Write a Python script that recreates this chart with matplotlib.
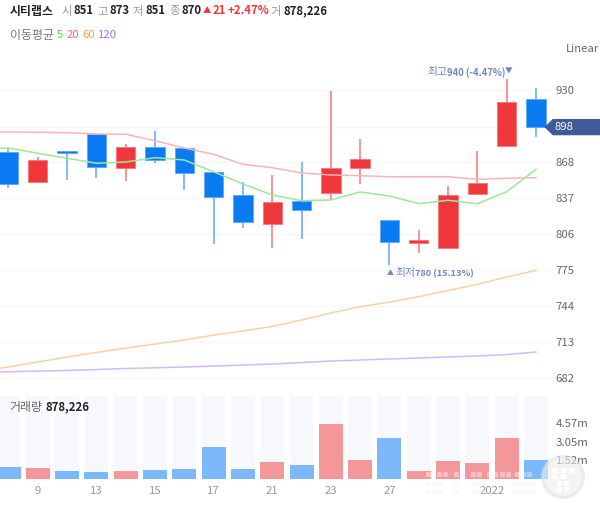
import matplotlib
matplotlib.use("Agg")
import matplotlib.pyplot as plt
from matplotlib.patches import Polygon, Circle, Rectangle

plt.rcParams['font.family'] = ['Noto Sans CJK KR', 'DejaVu Sans']

W, H = 600, 515

opens  = [876.4, 850.8, 877.7, 892.1, 862.8, 881.2, 880.3, 859.1, 839.8, 814.4, 834.4, 841.6, 863.1, 818.3, 798.5, 793.7, 840.7, 882.0, 922.0]
closes = [848.8, 870.0, 875.5, 863.7, 881.2, 870.0, 858.8, 837.6, 816.1, 833.3, 826.4, 862.6, 870.8, 799.4, 800.8, 839.8, 849.9, 919.9, 897.9]
highs  = [879.8, 872.6, 877.7, 892.1, 883.2, 895.0, 880.3, 859.1, 850.5, 856.8, 867.7, 929.1, 887.8, 818.3, 809.7, 847.6, 877.7, 939.7, 931.5]
lows   = [845.9, 850.8, 852.5, 854.5, 851.4, 867.4, 843.6, 797.4, 811.4, 794.2, 801.4, 835.3, 848.8, 779.6, 789.4, 793.7, 839.6, 882.0, 889.8]
volumes = [0.97, 0.88, 0.66, 0.58, 0.66, 0.74, 0.83, 2.64, 0.83, 1.35, 1.10, 4.55, 1.51, 3.33, 0.64, 1.49, 1.26, 3.33, 1.57]
volume_ceiling = 6.86

ma_x = list(range(-1, 19))
ma5   = [879.5, 880.0, 875.5, 871.2, 866.9, 868.0, 871.7, 869.7, 859.6, 849.1, 839.6, 834.7, 835.3, 842.2, 838.7, 832.1, 835.0, 832.1, 842.4, 861.7]
ma20  = [894.0, 893.8, 893.6, 893.2, 892.1, 891.9, 886.3, 880.0, 874.6, 866.0, 863.1, 858.5, 856.8, 856.2, 855.3, 855.3, 855.3, 853.1, 854.0, 854.5]
ma60  = [687.6, 691.5, 695.8, 700.1, 704.0, 707.8, 711.3, 714.7, 719.0, 722.5, 726.4, 732.0, 738.0, 743.4, 747.4, 752.0, 757.3, 762.7, 769.0, 774.7]
ma120 = [687.0, 687.4, 688.0, 688.5, 689.3, 690.2, 690.8, 691.5, 692.3, 693.2, 694.0, 695.3, 696.6, 697.5, 698.4, 699.2, 700.1, 701.0, 702.2, 704.4]

price_ticks = [682, 713, 744, 775, 806, 837, 868, 898, 930]
volume_ticks = [1.52, 3.05, 4.57]
volume_labels = ['1.52m', '3.05m', '4.57m']
date_ticks = [1, 3, 5, 7, 9, 11, 13, 16.5]
date_labels = ['9', '13', '15', '17', '21', '23', '27', '2022']
last_price = 898

RED, BLUE = '#f0383c', '#0a7bf2'
RED_WICK, BLUE_WICK = '#f4777a', '#5aa8f6'
RED_VOL, BLUE_VOL = '#f4979b', '#7db8fb'
GRID = '#f7f7f9'
TICK = '#666666'
NOTE = '#6f86c2'


def axes_rect(left, top, right, bottom):
    return [left / W, 1 - bottom / H, (right - left) / W, (bottom - top) / H]


fig = plt.figure(figsize=(W / 100, H / 100), dpi=100, facecolor='white')
ax = fig.add_axes(axes_rect(0, 60, 553, 385))
vax = fig.add_axes(axes_rect(0, 395.7, 553, 478.7))
xlim = (-0.29, 18.58)

# price panel
for i, (o, c, h, l) in enumerate(zip(opens, closes, highs, lows)):
    up = c >= o
    ax.vlines(i, l, h, color=RED_WICK if up else BLUE_WICK, lw=1.1, zorder=3)
    ax.bar(i, abs(c - o), bottom=min(o, c), width=0.66, color=RED if up else BLUE,
           edgecolor=RED_WICK if up else BLUE_WICK, linewidth=0.6, zorder=4)
ax.plot(ma_x, ma120, color='#d6b8fb', lw=1.1, zorder=2)
ax.plot(ma_x, ma60, color='#fcd0a6', lw=1.1, zorder=2)
ax.plot(ma_x, ma20, color='#fbb4b4', lw=1.1, zorder=5)
ax.plot(ma_x, ma5, color='#9be89b', lw=1.1, zorder=5)

ax.set_xlim(*xlim)
ax.set_ylim(676.0, 955.8)
ax.set_yticks(price_ticks)
ax.set_yticklabels(['' if v == last_price else str(v) for v in price_ticks])
ax.set_xticks([])
ax.yaxis.tick_right()
ax.tick_params(axis='y', length=0, pad=2, labelsize=8.2, labelcolor=TICK)
ax.grid(axis='y', color=GRID, lw=1)
ax.set_axisbelow(True)
for s in ax.spines.values():
    s.set_visible(False)
ax.patch.set_alpha(0)

# last price tag
tag = Polygon([(18.29, last_price), (18.57, last_price + 7), (20.3, last_price + 7),
               (20.3, last_price - 7), (18.57, last_price - 7)],
              closed=True, facecolor='#3f5a96', edgecolor='none', clip_on=False, zorder=6)
ax.add_patch(tag)
ax.text(18.62, last_price, str(last_price), color='white', fontsize=8.2, va='center', ha='left',
        zorder=7, clip_on=False)

# volume panel
vax.bar(range(len(volumes)), [volume_ceiling] * len(volumes), width=0.8, color='#f6f8fc', zorder=1)
for i, v in enumerate(volumes):
    up = closes[i] >= opens[i]
    vax.bar(i, v, width=0.82, color=RED_VOL if up else BLUE_VOL, zorder=2)
vax.set_xlim(*xlim)
vax.set_ylim(0, volume_ceiling)
vax.set_yticks(volume_ticks)
vax.set_yticklabels(volume_labels)
vax.yaxis.tick_right()
vax.set_xticks(date_ticks)
vax.set_xticklabels(date_labels)
vax.tick_params(axis='y', length=0, pad=2, labelsize=8.2, labelcolor=TICK)
vax.tick_params(axis='x', length=0, pad=5, labelsize=8.2, labelcolor='#999999')
for s in vax.spines.values():
    s.set_visible(False)
vax.patch.set_alpha(0)


def label(x, y, s, color='#222222', size=8.2, bold=False, ha='left'):
    fig.text(x / W, 1 - y / H, s, color=color, fontsize=size, va='center', ha=ha,
             fontweight='bold' if bold else 'normal')


GRAY = '#999999'
HRED = '#f0383c'
label(10, 11, '시티랩스', bold=True, size=8.6)
label(62, 11, '시', GRAY)
label(74, 11, '851', bold=True)
label(97, 11, '고', GRAY)
label(110, 11, '873', bold=True)
label(133, 11, '저', GRAY)
label(146, 11, '851', bold=True)
label(169, 11, '종', GRAY)
label(182, 11, '870', bold=True)
label(203, 11, '▲', HRED, size=6)
label(213, 11, '21', HRED, bold=True)
label(227, 11, '+2.47%', HRED, bold=True)
label(270, 11, '거', GRAY)
label(283, 11, '878,226', bold=True)
label(10, 35, '이동평균', '#777777', size=8.6)
label(57, 35, '5', '#4fd44f')
label(67, 35, '20', '#f8696b')
label(82, 35, '60', '#fa9f5a')
label(98, 35, '120', '#a56cf7')
label(566, 49, 'Linear', TICK)
label(427, 72, '최고', NOTE, size=7.8)
label(447, 73, '940 (-4.47%)', NOTE, bold=True, size=6.8)
label(505, 72, '▼', NOTE, size=5.5)
label(387, 273, '▲', NOTE, size=5)
label(395, 273, '최저', NOTE, size=7.8)
label(415, 274, '780 (15.13%)', NOTE, bold=True, size=6.6)
label(9, 407, '거래량', '#666666', size=8.6)
label(45, 407, '878,226', bold=True)

# watermark
wm = fig.add_axes([0, 0, 1, 1], zorder=10)
wm.set_xlim(0, W)
wm.set_ylim(H, 0)
wm.axis('off')
wm.add_patch(Circle((563, 477), 20.5, facecolor='#eeeeee', edgecolor='#e2e2e2', lw=2.2, alpha=0.6))
for cx, cy in [(554.5, 470), (563, 470), (571.5, 470), (554.5, 476), (563, 476), (559.5, 483),
               (566, 483), (559.5, 489), (566, 489)]:
    wm.add_patch(Rectangle((cx - 2.5, cy - 2.5), 5, 5, facecolor='white', edgecolor='none', alpha=0.95))
for cx in [426, 437, 443, 454, 460, 471, 477, 487, 493, 500, 506, 515, 521, 527]:
    wm.add_patch(Rectangle((cx, 471.5), 5, 5, facecolor='white', edgecolor='none', alpha=0.4))
for cy in [484, 492]:
    for cx in [426, 432, 438, 454, 473, 479, 512, 518, 524, 530]:
        wm.add_patch(Rectangle((cx, cy - 2), 5, 4, facecolor='#eeeeee', edgecolor='none', alpha=0.3))

fig.savefig('out.png', dpi=100)
